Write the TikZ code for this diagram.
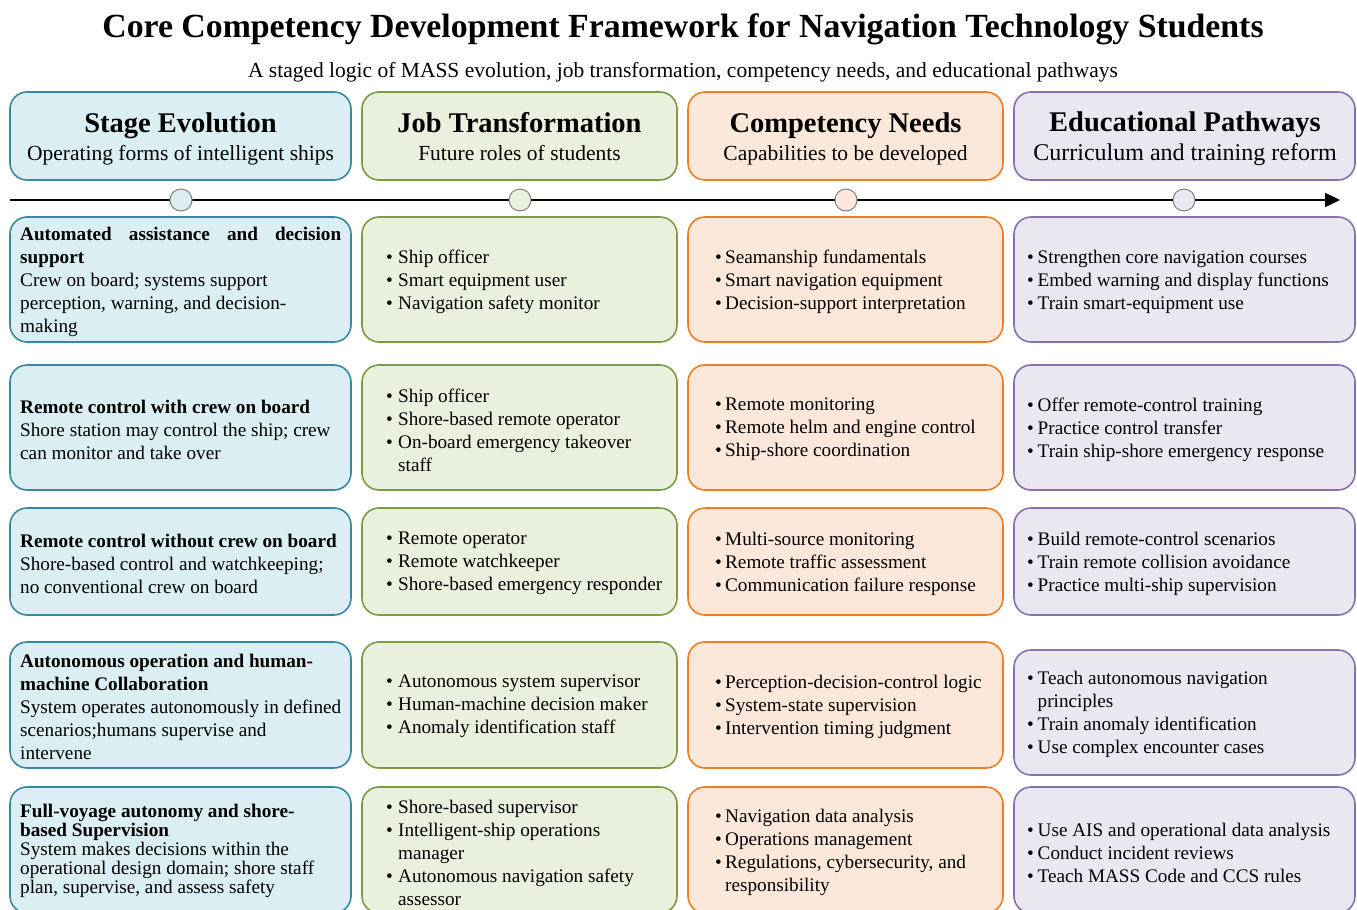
\documentclass[tikz,border=0pt]{standalone}
\usepackage{fontspec}
\setmainfont{Liberation Serif}
\usetikzlibrary{arrows.meta,fit}

% column palettes
\definecolor{blueFill}{HTML}{DAEEF3}
\definecolor{blueLine}{HTML}{3A87A1}
\definecolor{greenFill}{HTML}{EAF0DE}
\definecolor{greenLine}{HTML}{7C9C42}
\definecolor{orangeFill}{HTML}{FCE8DA}
\definecolor{orangeLine}{HTML}{EF7D22}
\definecolor{purpleFill}{HTML}{EAE7F0}
\definecolor{purpleLine}{HTML}{8770AE}
\definecolor{dotLine}{HTML}{7F7F7F}

\newlength\bulletgap
\setlength\bulletgap{12pt}
\newcommand\bi[1]{\makebox[\bulletgap][l]{•}#1}
\newcommand\bc[1]{\hspace*{\bulletgap}#1}

\tikzset{
  card/.style={draw, line width=1.6pt, rounded corners=17pt, inner sep=0pt},
  bluecard/.style={card, draw=blueLine, fill=blueFill},
  greencard/.style={card, draw=greenLine, fill=greenFill},
  orangecard/.style={card, draw=orangeLine, fill=orangeFill},
  purplecard/.style={card, draw=purpleLine, fill=purpleFill},
  body/.style={anchor=west, align=left, inner sep=0pt,
    font=\fontsize{19.2pt}{23pt}\selectfont},
  tightbody/.style={body, font=\fontsize{19.2pt}{19pt}\selectfont},
  gap10/.style={font=\fontsize{19.2pt}{23pt}\selectfont\setlength\bulletgap{10pt}},
  gap105/.style={font=\fontsize{19.2pt}{23pt}\selectfont\setlength\bulletgap{10.5pt}},
  headtitle/.style={anchor=base, inner sep=0pt,
    font=\fontsize{28.5pt}{34pt}\selectfont\bfseries},
  headsub/.style={anchor=base, inner sep=0pt,
    font=\fontsize{21.5pt}{26pt}\selectfont},
  marker/.style={circle, draw=dotLine, line width=1pt, minimum size=22pt, inner sep=0pt},
  timeline/.style={line width=2.4pt, -{Triangle[length=15pt,width=14pt]}},
}

\begin{document}
\begin{tikzpicture}[x=1pt,y=-1pt]
\useasboundingbox (0,0) rectangle (1357,910);

% title
\node[anchor=base, inner sep=0pt, font=\fontsize{33.8pt}{40pt}\selectfont\bfseries] (title) at (683,37.5)
  {Core Competency Development Framework for Navigation Technology Students};
\node[anchor=base, inner sep=0pt, font=\fontsize{21.5pt}{26pt}\selectfont] (subtitle) at (683,77)
  {A staged logic of MASS evolution, job transformation, competency needs, and educational pathways};

% column headers
\node[bluecard, fit={(10,92) (351,180)}] (h1) {};
\node[greencard, fit={(362,92) (677,180)}] (h2) {};
\node[orangecard, fit={(688,92) (1003,180)}] (h3) {};
\node[purplecard, fit={(1014,92) (1355,180)}] (h4) {};

\node[headtitle] (h1t) at (180.5,132) {Stage Evolution};
\node[headsub] (h1s) at (180.5,160) {Operating forms of intelligent ships};
\node[headtitle] (h2t) at (519.5,132) {Job Transformation};
\node[headsub] (h2s) at (519.5,160) {Future roles of students};
\node[headtitle] (h3t) at (845.5,132) {Competency Needs};
\node[headsub] (h3s) at (845.5,160) {Capabilities to be developed};
\node[headtitle] (h4t) at (1185,131) {Educational Pathways};
\node[headsub, font=\fontsize{24pt}{28pt}\selectfont] (h4s) at (1185,160) {Curriculum and training reform};

% timeline
\coordinate (ls) at (10,200);
\coordinate (le) at (1340,200);
\draw[timeline] (ls) -- (le);
\node[marker, fill=blueFill] (m1) at (181,200) {};
\node[marker, fill=greenFill] (m2) at (520,200) {};
\node[marker, fill=orangeFill] (m3) at (846,200) {};
\node[marker, fill=purpleFill] (m4) at (1184,200) {};

% stage cards
\node[bluecard, fit={(10,217) (351,342)}] (s1) {};
\node[bluecard, fit={(10,365) (351,490)}] (s2) {};
\node[bluecard, fit={(10,508) (351,615)}] (s3) {};
\node[bluecard, fit={(10,642) (351,768)}] (s4) {};
\node[bluecard, fit={(10,787) (351,913)}] (s5) {};

% job cards
\node[greencard, fit={(362,217) (677,342)}] (j1) {};
\node[greencard, fit={(362,365) (677,490)}] (j2) {};
\node[greencard, fit={(362,508) (677,615)}] (j3) {};
\node[greencard, fit={(362,642) (677,768)}] (j4) {};
\node[greencard, fit={(362,787) (677,913)}] (j5) {};

% competency cards
\node[orangecard, fit={(688,217) (1003,342)}] (c1) {};
\node[orangecard, fit={(688,365) (1003,490)}] (c2) {};
\node[orangecard, fit={(688,508) (1003,615)}] (c3) {};
\node[orangecard, fit={(688,642) (1003,768)}] (c4) {};
\node[orangecard, fit={(688,787) (1003,913)}] (c5) {};

% education cards
\node[purplecard, fit={(1014,217) (1355,342)}] (e1) {};
\node[purplecard, fit={(1014,365) (1355,490)}] (e2) {};
\node[purplecard, fit={(1014,508) (1355,615)}] (e3) {};
\node[purplecard, fit={(1014,650) (1355,775)}] (e4) {};
\node[purplecard, fit={(1014,787) (1355,913)}] (e5) {};

% stage texts
\node[body] (s1t) at (20,281.5) {\makebox[321pt][s]{\bfseries Automated assistance and decision}\\
  \textbf{support}\\ Crew on board; systems support\\ perception, warning, and decision-\\ making};
\node[body] (s2t) at (20,429.5) {\textbf{Remote control with crew on board}\\
  Shore station may control the ship; crew\\ can monitor and take over};
\node[body] (s3t) at (20,563.5) {\textbf{Remote control without crew on board}\\
  Shore-based control and watchkeeping;\\ no conventional crew on board};
\node[body] (s4t) at (20,706.5) {\textbf{Autonomous operation and human-}\\ \textbf{machine Collaboration}\\
  System operates autonomously in defined\\ scenarios;humans supervise and\\ intervene};
\node[tightbody] (s5t) at (20,851) {\textbf{Full-voyage autonomy and shore-}\\ \textbf{based Supervision}\\
  System makes decisions within the\\ operational design domain; shore staff\\ plan, supervise, and assess safety};

% job texts
\node[body] (j1t) at (386,281.5) {\bi{Ship officer}\\ \bi{Smart equipment user}\\ \bi{Navigation safety monitor}};
\node[body] (j2t) at (386,430) {\bi{Ship officer}\\ \bi{Shore-based remote operator}\\
  \bi{On-board emergency takeover}\\ \bc{staff}};
\node[body] (j3t) at (386,563.5) {\bi{Remote operator}\\ \bi{Remote watchkeeper}\\ \bi{Shore-based emergency responder}};
\node[body] (j4t) at (386,706.5) {\bi{Autonomous system supervisor}\\ \bi{Human-machine decision maker}\\
  \bi{Anomaly identification staff}};
\node[body] (j5t) at (386,852.5) {\bi{Shore-based supervisor}\\ \bi{Intelligent-ship operations}\\
  \bc{manager}\\ \bi{Autonomous navigation safety}\\ \bc{assessor}};

% competency texts
\node[body, gap10] (c1t) at (715,281.5)
  {\bi{Seamanship fundamentals}\\ \bi{Smart navigation equipment}\\ \bi{Decision-support interpretation}};
\node[body, gap10] (c2t) at (715,429.5)
  {\bi{Remote monitoring}\\ \bi{Remote helm and engine control}\\ \bi{Ship-shore coordination}};
\node[body, gap10] (c3t) at (715,563.5)
  {\bi{Multi-source monitoring}\\ \bi{Remote traffic assessment}\\ \bi{Communication failure response}};
\node[body, gap10] (c4t) at (715,706.5)
  {\bi{Perception-decision-control logic}\\ \bi{System-state supervision}\\ \bi{Intervention timing judgment}};
\node[body, gap10] (c5t) at (715,852)
  {\bi{Navigation data analysis}\\ \bi{Operations management}\\
   \bi{Regulations, cybersecurity, and}\\ \bc{responsibility}};

% education texts
\node[body, gap105] (e1t) at (1027,281.5)
  {\bi{Strengthen core navigation courses}\\ \bi{Embed warning and display functions}\\ \bi{Train smart-equipment use}};
\node[body, gap105] (e2t) at (1027,429.5)
  {\bi{Offer remote-control training}\\ \bi{Practice control transfer}\\ \bi{Train ship-shore emergency response}};
\node[body, gap105] (e3t) at (1027,563.5)
  {\bi{Build remote-control scenarios}\\ \bi{Train remote collision avoidance}\\ \bi{Practice multi-ship supervision}};
\node[body, gap105] (e4t) at (1027,714)
  {\bi{Teach autonomous navigation}\\ \bc{principles}\\ \bi{Train anomaly identification}\\ \bi{Use complex encounter cases}};
\node[body, gap105] (e5t) at (1027,852.5)
  {\bi{Use AIS and operational data analysis}\\ \bi{Conduct incident reviews}\\ \bi{Teach MASS Code and CCS rules}};

\end{tikzpicture}
\end{document}
